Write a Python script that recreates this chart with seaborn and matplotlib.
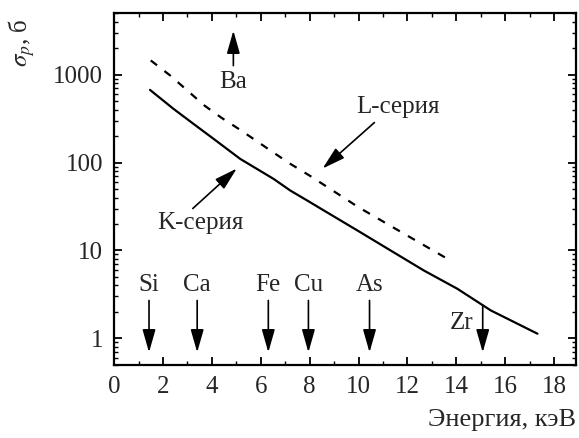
import numpy as np
import pandas as pd
import matplotlib
matplotlib.use('Agg')
import matplotlib.pyplot as plt
import seaborn as sns
from matplotlib.ticker import MultipleLocator, LogLocator, FixedLocator, NullFormatter

# K-series and L-series cross sections
k_energy = [1.47, 2.43, 3.25, 4.07, 5.16, 6.53, 7.21, 7.9, 8.58, 9.95, 11.31, 12.68, 14.04, 15.41, 17.32]
k_sigma = [670, 408, 275, 186, 110, 65, 48, 37, 28.5, 16.9, 10, 5.9, 3.67, 2.08, 1.13]

l_energy = [1.5, 2.3, 3.0, 3.7, 4.4, 5.1, 5.8, 6.5, 7.2, 8.0, 10.0, 11.4, 13.63]
l_sigma = [1450, 975, 658, 444, 322, 241, 178, 131, 97, 71, 31, 18.4, 8.05]

# element line markers (arrows pointing down)
elements = ['Si', 'Ca', 'Fe', 'Cu', 'As']
element_energy = [1.43, 3.40, 6.31, 7.95, 10.45]
zr_energy = 15.08
ba_energy = 4.88

sns.set_style('ticks')
plt.rcParams['font.family'] = ['Liberation Serif', 'DejaVu Serif']
plt.rcParams['mathtext.fontset'] = 'stix'

fig = plt.figure(figsize=(5.79, 4.38), dpi=100)
ax = fig.add_axes([0.197, 0.167, 0.798, 0.803])

sns.lineplot(x=k_energy, y=k_sigma, ax=ax, color='black', lw=1.6)
sns.lineplot(x=l_energy, y=l_sigma, ax=ax, color='black', lw=1.6, linestyle=(0, (3.6, 4.2)))

ax.set_yscale('log')
ax.set_xlim(0, 18.9)
ax.set_ylim(0.5, 5000)

ax.xaxis.set_major_locator(MultipleLocator(2))
ax.xaxis.set_minor_locator(MultipleLocator(1))
ax.yaxis.set_major_locator(FixedLocator([1, 10, 100, 1000]))
ax.yaxis.set_minor_locator(LogLocator(base=10, subs=np.arange(2, 10)))
ax.yaxis.set_minor_formatter(NullFormatter())
ax.set_yticklabels(['1', '10', '100', '1000'])

ax.tick_params(which='both', direction='in', top=True, right=True, color='black')
ax.tick_params(which='major', length=6, width=1.3, labelsize=18, pad=8)
ax.tick_params(which='minor', length=3, width=1.0)
for sp in ax.spines.values():
    sp.set_linewidth(1.6)
    sp.set_color('black')

ax.set_ylabel(r'$\sigma_p$, б', fontsize=18, rotation=90)
ax.yaxis.set_label_coords(-0.167, 0.915)
ax.set_xlabel('Энергия, кэВ', fontsize=19, loc='right')
ax.xaxis.set_label_coords(1.0, -0.125)

arrow = dict(arrowstyle='-|>,head_length=0.7,head_width=0.2', mutation_scale=20,
             color='black', lw=1.2, shrinkA=0, shrinkB=0)

for name, e in zip(elements, element_energy):
    ax.annotate('', xy=(e, 0.694), xytext=(e, 2.7), arrowprops=arrow)
    ax.text(e, 4.0, name, fontsize=18, ha='center', va='center')

ax.annotate('', xy=(zr_energy, 0.694), xytext=(zr_energy, 2.37), arrowprops=arrow)
ax.text(14.22, 1.48, 'Zr', fontsize=18, ha='center', va='center')

ax.annotate('', xy=(ba_energy, 3160), xytext=(ba_energy, 1265), arrowprops=arrow)
ax.text(ba_energy, 833, 'Ba', fontsize=18, ha='center', va='center')

ax.annotate('', xy=(8.53, 85.5), xytext=(10.65, 285), arrowprops=arrow)
ax.text(11.6, 433, 'L-серия', fontsize=18, ha='center', va='center')

ax.annotate('', xy=(5.02, 85.5), xytext=(3.22, 30), arrowprops=arrow)
ax.text(3.55, 20.3, 'K-серия', fontsize=18, ha='center', va='center')

fig.savefig('out.png', dpi=100)
